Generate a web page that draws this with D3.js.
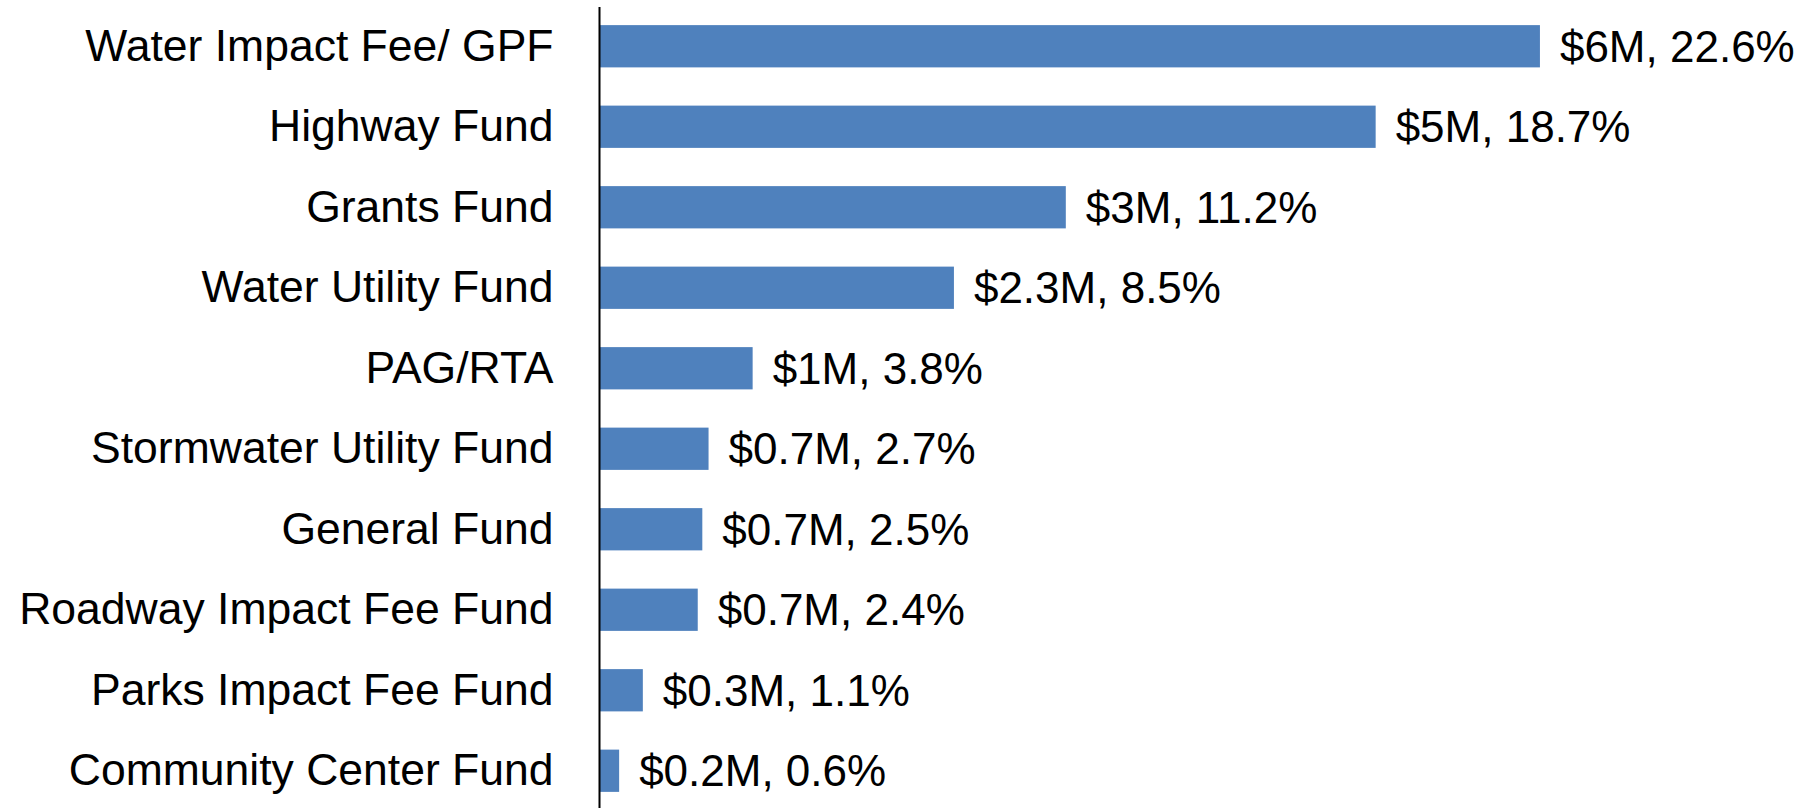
<!DOCTYPE html>
<html>
<head>
<meta charset="utf-8">
<script src="https://cdn.jsdelivr.net/npm/d3@7"></script>
<style>
  html, body { margin: 0; padding: 0; background: #fff; }
  svg { display: block; }
  text { font-family: "Liberation Sans", Arial, sans-serif; fill: #000; }
</style>
</head>
<body>
<svg id="chart" width="1804" height="808"></svg>
<script>
// ---- data ----
const categories = [
  "Water Impact Fee/ GPF",
  "Highway Fund",
  "Grants Fund",
  "Water Utility Fund",
  "PAG/RTA",
  "Stormwater Utility Fund",
  "General Fund",
  "Roadway Impact Fee Fund",
  "Parks Impact Fee Fund",
  "Community Center Fund"
];
// share of total (%)
const shares = [22.6, 18.65, 11.2, 8.51, 3.67, 2.61, 2.46, 2.35, 1.03, 0.46];
const valueLabels = [
  "$6M, 22.6%",
  "$5M, 18.7%",
  "$3M, 11.2%",
  "$2.3M, 8.5%",
  "$1M, 3.8%",
  "$0.7M, 2.7%",
  "$0.7M, 2.5%",
  "$0.7M, 2.4%",
  "$0.3M, 1.1%",
  "$0.2M, 0.6%"
];
const xDomain = [0, 25];

// ---- layout ----
const svg = d3.select("#chart");
const W = 1804, H = 808;
const x0 = 600;
const pxPerUnit = 41.59;
const x = d3.scaleLinear().domain(xDomain).range([x0, x0 + xDomain[1] * pxPerUnit]);
const y = d3.scaleBand().domain(categories).range([6, 811])
  .paddingInner(0.475).paddingOuter(0.2375);

const data = categories.map((c, i) => ({ cat: c, v: shares[i], label: valueLabels[i] }));

// bars
svg.append("g").selectAll("rect").data(data).join("rect")
  .attr("x", x(0))
  .attr("y", d => y(d.cat))
  .attr("width", d => x(d.v) - x(0))
  .attr("height", y.bandwidth())
  .attr("fill", "#4F81BD");

// value labels
svg.append("g").selectAll("text").data(data).join("text")
  .attr("x", d => x(d.v) + 20)
  .attr("y", d => y(d.cat) + y.bandwidth() / 2)
  .attr("dy", "0.35em")
  .style("font-size", "44px")
  .text(d => d.label);

// category axis
const axis = d3.axisLeft(y).tickSize(0).tickPadding(46);
const gAxis = svg.append("g").attr("transform", `translate(${x0 - 0.5},0)`).call(axis);
gAxis.select(".domain").remove();
gAxis.selectAll("text")
  .style("font-family", '"Liberation Sans", Arial, sans-serif')
  .style("font-size", "44.5px")
  .attr("fill", "#000");

// axis line
svg.append("line")
  .attr("x1", x0 - 0.5).attr("x2", x0 - 0.5)
  .attr("y1", 7).attr("y2", H)
  .attr("stroke", "#000").attr("stroke-width", 2);
</script>
</body>
</html>
